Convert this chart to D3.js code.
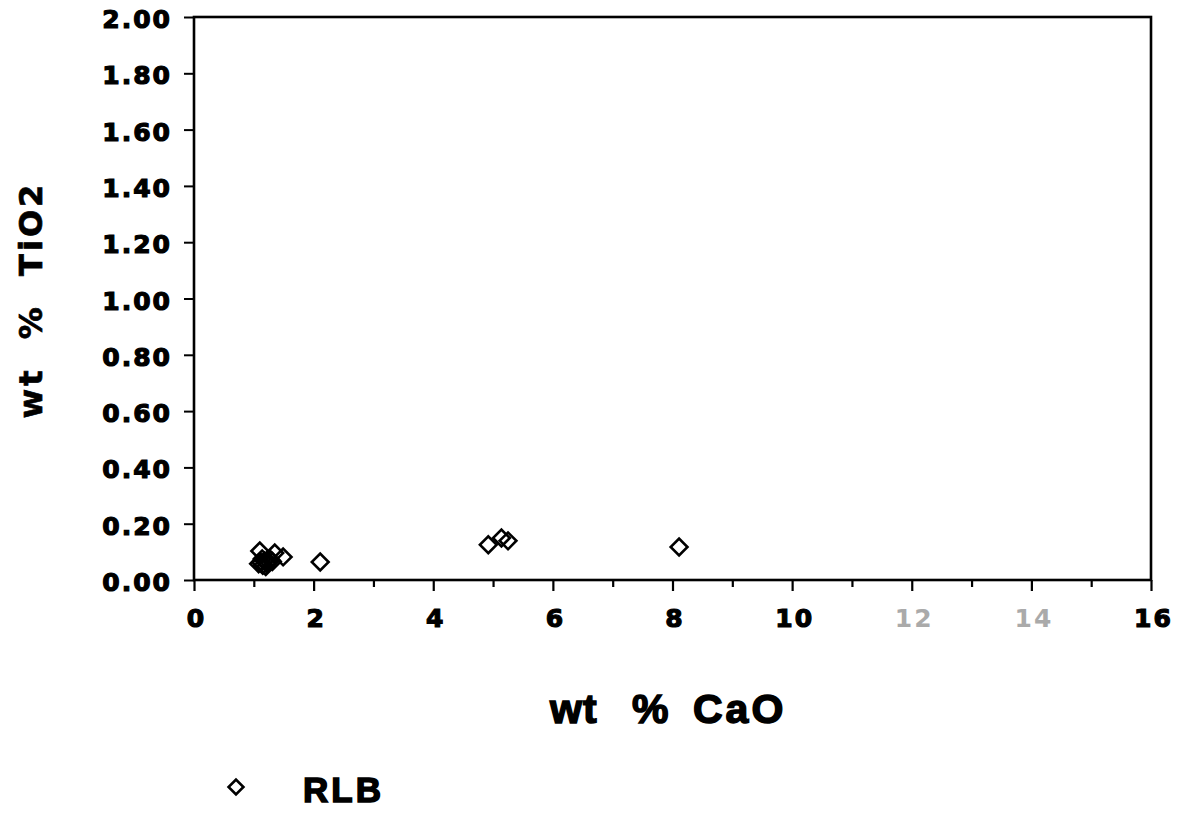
<!DOCTYPE html>
<html>
<head>
<meta charset="utf-8">
<script src="https://cdn.jsdelivr.net/npm/d3@7/dist/d3.min.js"></script>
<style>
html,body{margin:0;padding:0;background:#fff;}
svg{display:block;}
</style>
</head>
<body>
<svg id="chart" width="1189" height="813"></svg>
<script>
// ---- data ----
const seriesName = "RLB";
const cao  = [1.10, 1.35, 1.49, 1.12, 1.15, 1.18, 1.22, 1.25, 1.20, 1.28, 1.14, 1.08, 1.31, 2.11, 4.92, 5.14, 5.25, 8.11];
const tio2 = [0.103,0.096,0.082,0.062,0.052,0.068,0.058,0.065,0.048,0.072,0.075,0.058,0.066,0.064,0.125,0.149,0.139,0.117];
const xMajorTicks = [0, 2, 4, 6, 8, 10, 12, 14, 16];
const xMinorTicks = [1, 3, 5, 7, 9, 11, 13, 15];
const yTicks = [0, 0.2, 0.4, 0.6, 0.8, 1.0, 1.2, 1.4, 1.6, 1.8, 2.0];
const fadedXLabels = [12, 14];
const xTitle = ["wt", "%", "CaO"];
const yTitle = "wt  %  TiO2";

const svg = d3.select("#chart");
const L = 194, R = 1151, T = 17, B = 580;
const x = d3.scaleLinear().domain([0, 16]).range([L, R]);
const y = d3.scaleLinear().domain([0, 2]).range([B, T]);

const tickFont = "'DejaVu Sans', sans-serif";

// minor x ticks
const gMinor = svg.append("g").attr("transform", `translate(0,${B})`)
  .call(d3.axisBottom(x).tickValues(xMinorTicks).tickSize(7).tickFormat(""));
gMinor.select(".domain").remove();
gMinor.selectAll("line").attr("stroke", "#000").attr("stroke-width", 2.2);

// major x ticks + labels
const gX = svg.append("g").attr("transform", `translate(0,${B})`)
  .call(d3.axisBottom(x).tickValues(xMajorTicks).tickSize(11).tickPadding(20).tickFormat(d3.format("d")));
gX.select(".domain").remove();
gX.selectAll("line").attr("stroke", "#000").attr("stroke-width", 2.2);
gX.selectAll("text")
  .attr("font-family", tickFont).attr("font-weight", "bold").attr("font-size", 25)
  .attr("letter-spacing", 2)
  .attr("fill", d => fadedXLabels.includes(d) ? "#aaa" : "#000")
  .attr("stroke", d => fadedXLabels.includes(d) ? "none" : "#000").attr("stroke-width", 1.2)
  .attr("dx", 2).attr("dy", "0.62em");

// y axis
const gY = svg.append("g").attr("transform", `translate(${L},0)`)
  .call(d3.axisLeft(y).tickValues(yTicks).tickSize(10).tickPadding(12).tickFormat(d3.format(".2f")));
gY.select(".domain").remove();
gY.selectAll("line").attr("stroke", "#000").attr("stroke-width", 2);
gY.selectAll("text")
  .attr("font-family", tickFont).attr("font-weight", "bold").attr("font-size", 25)
  .attr("letter-spacing", 2).attr("fill", "#000")
  .attr("stroke", "#000").attr("stroke-width", 1.2)
  .attr("dy", "0.42em");

// frame
svg.append("rect").attr("x", L).attr("y", T).attr("width", R - L).attr("height", B - T)
  .attr("fill", "none").attr("stroke", "#000").attr("stroke-width", 2.6);

// points
const diamond = d3.symbol(d3.symbolSquare).size(140);
svg.append("g").selectAll("path").data(cao.map((c, i) => [c, tio2[i]])).join("path")
  .attr("d", diamond)
  .attr("transform", d => `translate(${x(d[0])},${y(d[1])}) rotate(45)`)
  .attr("fill", "none").attr("stroke", "#000").attr("stroke-width", 2.6);

// x title
const xt = svg.append("text").attr("y", 723)
  .attr("font-family", "'Liberation Sans', Arial, sans-serif").attr("font-weight", "bold")
  .attr("font-size", 41).attr("fill", "#000").attr("stroke", "#000").attr("stroke-width", 1.5);
const xPos = [550, 632, 693];
xTitle.forEach((t, i) => xt.append("tspan").attr("x", xPos[i]).attr("letter-spacing", i === 2 ? 3 : 1).text(t));

// y title
svg.append("text").attr("transform", "translate(42,300) rotate(-90)")
  .attr("text-anchor", "middle").style("white-space", "pre")
  .attr("font-family", tickFont).attr("font-weight", "bold").attr("font-size", 32)
  .attr("letter-spacing", 3).attr("fill", "#000").attr("stroke", "#000").attr("stroke-width", 0.7)
  .text(yTitle);

// legend
svg.append("path").attr("d", d3.symbol(d3.symbolSquare).size(110))
  .attr("transform", "translate(236,787) rotate(45)")
  .attr("fill", "none").attr("stroke", "#000").attr("stroke-width", 2.6);
svg.append("text").attr("x", 303).attr("y", 802)
  .attr("font-family", "'Liberation Sans', Arial, sans-serif").attr("font-weight", "bold")
  .attr("font-size", 35).attr("letter-spacing", 3).attr("fill", "#000")
  .attr("stroke", "#000").attr("stroke-width", 1.5).text(seriesName);
</script>
</body>
</html>
